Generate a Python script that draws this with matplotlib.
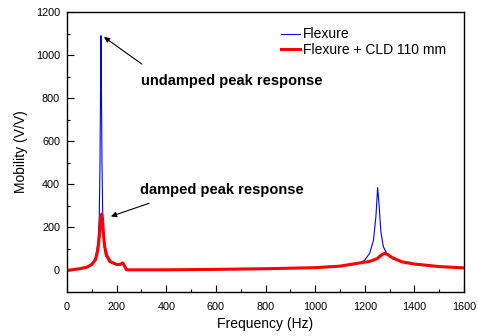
import matplotlib
matplotlib.use("Agg")
import matplotlib.pyplot as plt
from matplotlib.ticker import MultipleLocator

plt.rcParams['font.family'] = ['Liberation Sans', 'DejaVu Sans']

flex_freq = [0, 50, 80, 100, 115, 125, 130, 133, 135, 137, 139, 141, 144, 148, 155, 170, 200,
             215, 225, 232, 240, 260, 300, 400, 600, 800, 1000, 1100, 1150, 1180, 1200, 1220,
             1235, 1245, 1252, 1258, 1265, 1275, 1290, 1310, 1350, 1400, 1500, 1600]
flex_mob = [0, 8, 15, 30, 60, 130, 250, 500, 800, 1090, 800, 500, 250, 130, 70, 40, 28,
            28, 35, 20, 3, 1, 3, 3, 5, 8, 13, 20, 27, 35, 48, 80,
            140, 250, 385, 300, 180, 110, 75, 55, 38, 28, 18, 12]

cld_freq = [0, 50, 80, 100, 115, 125, 132, 137, 140, 143, 147, 152, 160, 175, 200,
            215, 225, 232, 240, 300, 400, 600, 800, 1000, 1100, 1180, 1220, 1250, 1265,
            1280, 1295, 1310, 1350, 1400, 1500, 1600]
cld_mob = [0, 8, 15, 28, 50, 100, 180, 250, 262, 240, 170, 110, 70, 40, 28,
           28, 35, 20, 3, 3, 3, 5, 8, 13, 20, 35, 42, 55, 70,
           80, 72, 60, 40, 30, 18, 12]

fig = plt.figure(figsize=(4.78, 3.36), dpi=100)
ax = fig.add_axes([67/478, 1-292/336, (464-67)/478, (292-12)/336])

ax.plot(flex_freq, flex_mob, color='#0000ff', lw=0.8, label='Flexure')
ax.plot(cld_freq, cld_mob, color='#ff0000', lw=2.2, label='Flexure + CLD 110 mm')

ax.set_xlim(0, 1600)
ax.set_ylim(-100, 1200)
ax.xaxis.set_major_locator(MultipleLocator(200))
ax.xaxis.set_minor_locator(MultipleLocator(100))
ax.yaxis.set_major_locator(MultipleLocator(200))
ax.yaxis.set_minor_locator(MultipleLocator(100))
ax.tick_params(which='both', direction='in', labelsize=7.8, colors='black')
ax.tick_params(which='major', length=5, width=0.8)
ax.tick_params(which='minor', length=2.5, width=0.8)
ax.tick_params(axis='x', pad=7)
ax.tick_params(axis='y', pad=5)
for s in ax.spines.values():
    s.set_linewidth(1.0)

ax.set_xlabel('Frequency (Hz)', fontsize=10, labelpad=4)
ax.set_ylabel('Mobility (V/V)', fontsize=10, labelpad=6)

ax.legend(loc='upper left', frameon=False, fontsize=10, handlelength=1.4,
          handletextpad=0.15, labelspacing=0.12, borderaxespad=0, borderpad=0,
          bbox_to_anchor=(0.539, 0.945))

ax.text(298, 880, 'undamped peak response', fontsize=10.5, fontweight='bold',
        va='center', ha='left')
ax.annotate('', xy=(149, 1084), xytext=(302, 958),
            arrowprops=dict(arrowstyle='-|>', color='black', lw=0.8,
                            shrinkA=0, shrinkB=0, mutation_scale=8))
ax.text(294, 372, 'damped peak response', fontsize=10.5, fontweight='bold',
        va='center', ha='left')
ax.annotate('', xy=(177, 251), xytext=(331, 312),
            arrowprops=dict(arrowstyle='-|>', color='black', lw=0.8,
                            shrinkA=0, shrinkB=0, mutation_scale=8))

fig.savefig('out.png', dpi=100)
